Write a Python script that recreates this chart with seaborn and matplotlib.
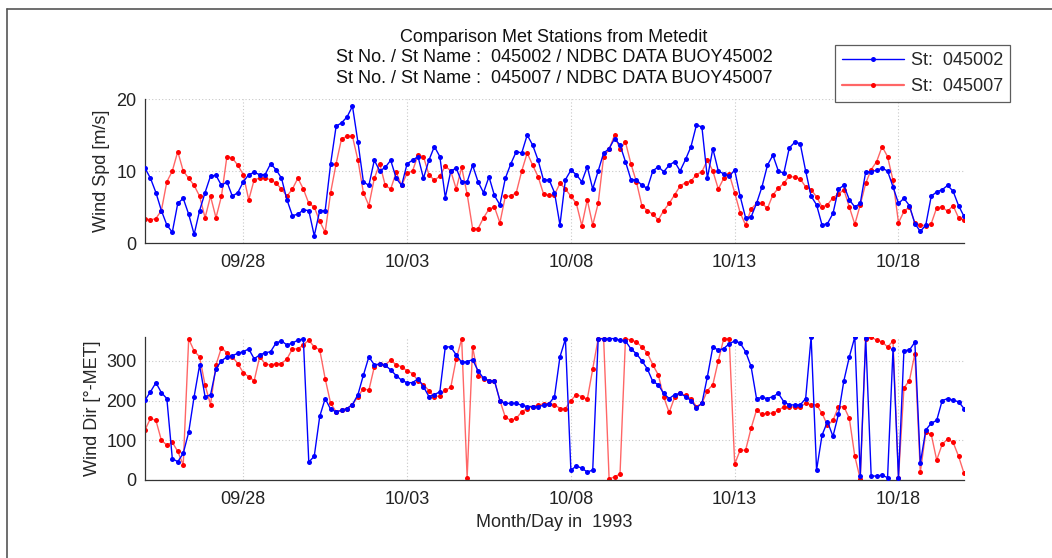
import numpy as np
import pandas as pd
import matplotlib
matplotlib.use("Agg")
import matplotlib.pyplot as plt
import matplotlib.dates as mdates
from matplotlib.lines import Line2D
import seaborn as sns

# ---------------- data (4-hourly readings from 1993-09-25 00:00) ----------------
STATIONS = ["St:  045002", "St:  045007"]
TITLE_LINES = ["Comparison Met Stations from Metedit",
               "St No. / St Name :  045002 / NDBC DATA BUOY45002",
               "St No. / St Name :  045007 / NDBC DATA BUOY45007"]
XTICK_DATES = ["1993-09-28", "1993-10-03", "1993-10-08", "1993-10-13", "1993-10-18"]
START = "1993-09-25"

SPD_45002 = [
    10.4, 9, 7, 4.5, 2.5, 1.5,
    5.5, 6.2, 4, 1.2, 4.5, 7,
    9.3, 9.4, 8, 8.5, 6.5, 7,
    8.5, 9.5, 9.8, 9.5, 9.5, 11,
    10.2, 9.0, 6, 3.8, 4, 4.6,
    4.5, 1.0, 4.5, 4.5, 11, 16.2,
    16.7, 17.5, 19, 14, 8.5, 8,
    11.5, 10, 10.5, 11.5, 9, 8,
    11, 11.5, 12, 9, 11.5, 13.4,
    12, 6.3, 10, 10.4, 8.5, 8.5,
    10.8, 8.5, 7, 9.2, 6.6, 5.3,
    9, 11, 12.7, 12.5, 15, 13.6,
    11.5, 8.7, 8.8, 7, 2.5, 8.8,
    10.1, 9.5, 8.5, 10.6, 7.5, 10,
    12.5, 13.1, 14.5, 13.6, 11.3, 8.8,
    8.8, 8, 7.6, 10, 10.6, 9.9,
    10.8, 11.3, 10, 11.6, 13.4, 16.4,
    16.1, 9, 13.1, 10, 9.6, 9.3,
    10.1, 6.5, 3.5, 3.6, 5.5, 7.8,
    10.8, 12.2, 10, 9.7, 13.2, 14,
    13.8, 10, 6.5, 5.3, 2.5, 2.7,
    4.1, 7.5, 8, 6, 5, 5.5,
    9.9, 9.9, 10.1, 10.4, 10, 7.8,
    5.5, 6.2, 5.2, 2.7, 1.6, 2.5,
    6.5, 7.1, 7.4, 8, 7.2, 5.2,
    3.7]

SPD_45007 = [
    3.4, 3.2, 3.4, 4.5, 8.5, 10,
    12.7, 10, 9, 8, 6.5, 3.5,
    6.5, 3.5, 6.5, 12, 11.8, 10.8,
    9.5, 6, 8.8, 9, 9, 8.8,
    8.3, 7.5, 6.5, 7.5, 9, 7.5,
    5.5, 5, 3, 1.5, 7, 11,
    14.5, 14.8, 14.8, 11.5, 7, 5.2,
    9, 11, 8, 7.5, 9.8, 8,
    9.7, 10, 12.2, 12, 9.5, 8.7,
    9.3, 10.7, 10, 7.5, 10.5, 6.8,
    2, 2, 3.5, 4.7, 5, 2.8,
    6.5, 6.5, 7, 10, 12.5, 10.8,
    9.2, 6.8, 6.6, 6.7, 8.3, 7.5,
    6.5, 5.5, 2.4, 6, 2.5, 5.5,
    12, 13, 15, 13, 14, 11,
    8.5, 5.2, 4.5, 4, 3.2, 4.5,
    5.5, 6.7, 7.9, 8.4, 8.6, 9.5,
    9.9, 11.5, 10, 7.5, 9, 9.6,
    7, 4.2, 2.5, 4.7, 5.5, 5.5,
    4.8, 6.7, 7.6, 8.3, 9.3, 9.1,
    8.9, 7.8, 7.4, 6.4, 5, 5.3,
    6.3, 6.8, 7.4, 5, 2.6, 5.3,
    8.3, 10.2, 11.3, 13.4, 12, 8.7,
    2.8, 4.4, 5, 2.8, 2.5, 2.4,
    2.7, 4.9, 5, 4.4, 5.2, 3.5,
    3.2]

DIR_45002 = [
    201, 222, 245, 220, 205, 54,
    46, 67, 120, 210, 289, 210,
    214, 280, 300, 310, 313, 319,
    323, 330, 305, 315, 320, 323,
    345, 350, 340, 345, 352, 355,
    45, 60, 160, 205, 178, 172,
    175, 180, 190, 215, 264, 310,
    290, 292, 289, 277, 263, 251,
    245, 245, 255, 235, 210, 215,
    222, 335, 335, 315, 296, 298,
    303, 275, 256, 250, 250, 200,
    193, 193, 193, 188, 185, 185,
    185, 188, 192, 210, 310, 355,
    25, 35, 30, 20, 25, 355,
    356, 356, 356, 352, 350, 330,
    318, 300, 280, 248, 240, 218,
    205, 215, 218, 210, 200, 182,
    193, 260, 335, 327, 331, 343,
    350, 345, 323, 286, 205, 208,
    205, 210, 218, 197, 189, 189,
    189, 205, 360, 25, 113, 147,
    110, 165, 250, 310, 360, 10,
    358, 10, 10, 12, 6, 330,
    6, 326, 327, 347, 42, 126,
    143, 150, 200, 205, 201, 197,
    180]

DIR_45007 = [
    126, 155, 150, 100, 88, 95,
    72, 38, 355, 325, 310, 239,
    190, 290, 333, 320, 310, 293,
    270, 260, 250, 310, 293, 289,
    293, 293, 305, 330, 330, 340,
    352, 335, 328, 255, 193, 172,
    176, 180, 190, 210, 230, 226,
    285, 293, 290, 302, 290, 285,
    275, 268, 250, 240, 225, 209,
    212, 226, 233, 305, 355, 5,
    335, 262, 255, 250, 250, 200,
    158, 150, 155, 172, 180, 185,
    188, 192, 192, 190, 180, 180,
    200, 215, 210, 203, 280, 356,
    356, 3, 8, 15, 356, 352,
    348, 335, 320, 290, 265, 209,
    170, 208, 218, 213, 205, 185,
    193, 225, 240, 300, 356, 356,
    40, 75, 75, 130, 176, 165,
    168, 168, 176, 184, 184, 184,
    184, 193, 190, 189, 168, 138,
    150, 184, 185, 155, 60, 2,
    356, 360, 352, 348, 335, 350,
    5, 232, 250, 318, 20, 120,
    115, 50, 90, 103, 95, 60,
    17]

# ---------------- frame ----------------
n = len(SPD_45002)
times = pd.date_range(START, periods=n, freq="4h")
df = pd.DataFrame({
    "time": np.concatenate([times, times]),
    "station": [STATIONS[0]] * n + [STATIONS[1]] * n,
    "spd": SPD_45002 + SPD_45007,
    "dir": DIR_45002 + DIR_45007,
})

sns.set_theme(style="white")
plt.rcParams["font.family"] = ["Liberation Sans", "DejaVu Sans"]

FS = 13
W, H = 1052, 558
fig = plt.figure(figsize=(W / 100, H / 100), dpi=100)
fig.patch.set_facecolor("white")

def ax_rect(l, t, r, b):
    return [l / W, 1 - b / H, (r - l) / W, (b - t) / H]

ax1 = fig.add_axes(ax_rect(145, 99, 964, 243))
ax2 = fig.add_axes(ax_rect(145, 337, 964, 480))

palette = {STATIONS[0]: "#0000ff", STATIONS[1]: "#ff0000"}

for ax, col in ((ax1, "spd"), (ax2, "dir")):
    sns.lineplot(data=df, x="time", y=col, hue="station", palette=palette,
                 estimator=None, sort=False, marker="o", markersize=3.6,
                 markeredgewidth=0, linewidth=1.0, ax=ax, legend=False)
    lines = ax.get_lines()
    lines[0].set_zorder(3)
    lines[1].set_color((1, 0, 0, 0.6))
    lines[1].set_markerfacecolor("#ff0000")
    lines[1].set_markeredgecolor("#ff0000")
    lines[1].set_zorder(2)

xt = pd.to_datetime(XTICK_DATES)
for ax in (ax1, ax2):
    ax.set_xlim(pd.Timestamp("1993-09-25"), pd.Timestamp("1993-10-20"))
    ax.set_xticks(xt)
    ax.xaxis.set_major_formatter(mdates.DateFormatter("%m/%d"))
    ax.tick_params(direction="in", length=4, width=0.8, labelsize=FS,
                   colors="#222222", pad=6)
    ax.tick_params(axis="x", pad=8)
    ax.grid(True, linestyle=(0, (1, 2)), color="#c8c8c8", linewidth=0.8)
    for s in ("top", "right"):
        ax.spines[s].set_visible(False)
    for s in ("left", "bottom"):
        ax.spines[s].set_color("#333333")
        ax.spines[s].set_linewidth(0.9)
    ax.set_facecolor("white")

ax1.set_ylim(0, 20)
ax1.set_yticks([0, 10, 20])
ax1.set_ylabel("Wind Spd [m/s]", fontsize=FS, labelpad=5)
ax1.set_xlabel("")

ax2.set_ylim(0, 360)
ax2.set_yticks([0, 100, 200, 300])
ax2.set_ylabel("Wind Dir [\u00b0-MET]", fontsize=FS, labelpad=4)
ax2.set_xlabel("Month/Day in  1993", fontsize=FS, labelpad=4)

# title lines
for i, txt in enumerate(TITLE_LINES):
    fig.text(554 / W, 1 - (37.5 + 20.5 * i) / H, txt, ha="center", va="center",
             fontsize=FS, color="#111111")

# legend
handles = [Line2D([], [], color="#0000ff", lw=1.0, marker="o", markersize=3.6,
                  markeredgewidth=0),
           Line2D([], [], color=(1, 0, 0, 0.6), lw=1.6, marker="o", markersize=3.6,
                  markerfacecolor="#ff0000", markeredgewidth=0)]
leg = fig.legend(handles, STATIONS, loc="upper left",
                 bbox_to_anchor=(835 / W, 1 - 45 / H), fontsize=FS,
                 frameon=True, fancybox=False, edgecolor="#333333",
                 handlelength=3.4, handletextpad=0.4, borderpad=0.4,
                 labelspacing=0.5, borderaxespad=0)
leg.get_frame().set_linewidth(0.9)

# outer frame lines (top and left visible in reference)
fig.add_artist(Line2D([7 / W, 1], [1 - 9 / H, 1 - 9 / H], color="#555555", lw=1.2))
fig.add_artist(Line2D([7 / W, 7 / W], [0, 1 - 9 / H], color="#555555", lw=1.2))

fig.savefig("out.png", dpi=100, facecolor="white")
